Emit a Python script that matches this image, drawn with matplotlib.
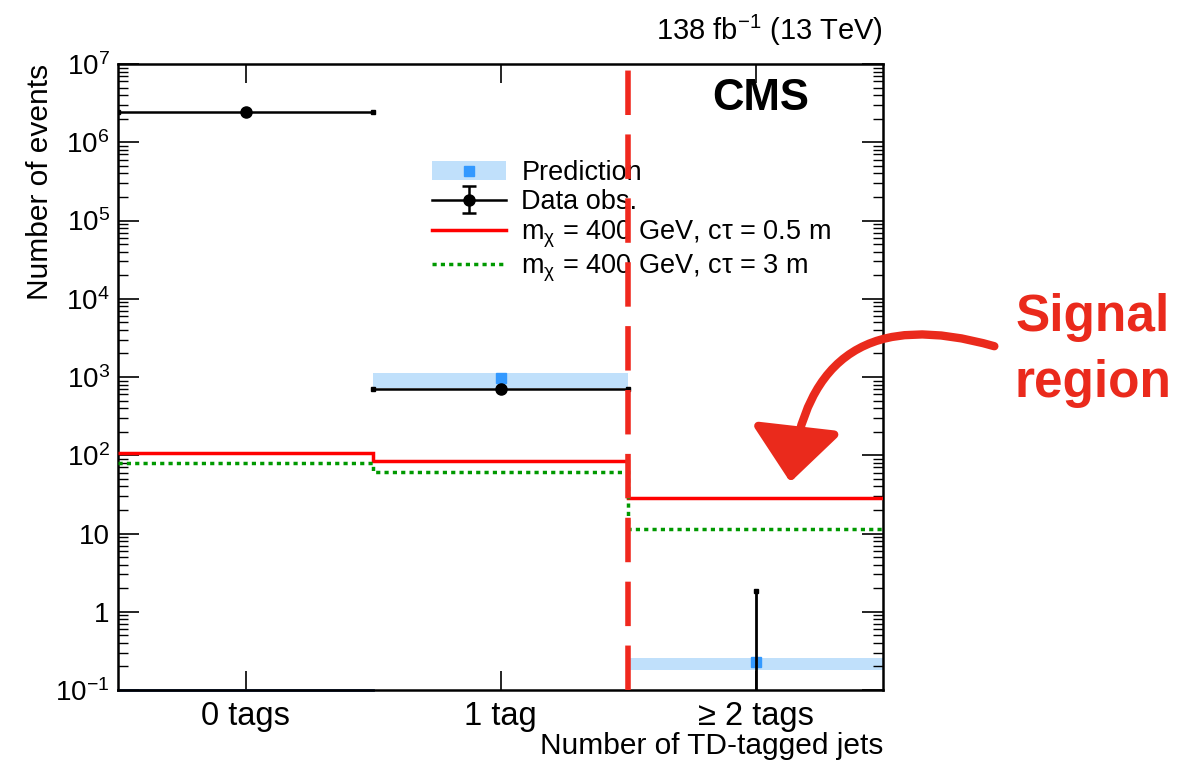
import numpy as np
import matplotlib
matplotlib.use("Agg")
import matplotlib.pyplot as plt
from matplotlib.patches import Patch, FancyArrowPatch
from matplotlib.lines import Line2D
from matplotlib.ticker import FixedLocator, FuncFormatter, LogLocator, NullFormatter

plt.rcParams['font.family'] = ['Liberation Sans', 'DejaVu Sans']
plt.rcParams['mathtext.fontset'] = 'custom'
plt.rcParams['mathtext.rm'] = 'Liberation Sans'
plt.rcParams['mathtext.it'] = 'Liberation Sans'
plt.rcParams['mathtext.bf'] = 'Liberation Sans:bold'

# ---- data ----
categories = ["0 tags", "1 tag", "\u2265 2 tags"]
bin_edges = [-0.5, 0.5, 1.5, 2.5]
data_obs = [2.44e6, 703, 0]
data_err_up = [1560, 26.5, 1.84]
pred_vals = [np.nan, 970, 0.228]
pred_lo = [np.nan, 720, 0.18]
pred_hi = [np.nan, 1120, 0.26]
sig_05m = [107, 84.5, 28.4]
sig_3m = [80, 61, 11.4]
ytick_vals = [1e-1, 1, 10, 1e2, 1e3, 1e4, 1e5, 1e6, 1e7]

fig = plt.figure(figsize=(11.9, 7.64), dpi=100)
ax = fig.add_axes([118/1190, 1-690/764, 765/1190, 626/764])
ax.set_yscale('log')
ax.set_xlim(bin_edges[0], bin_edges[-1])
ax.set_ylim(ytick_vals[0], ytick_vals[-1])

centers = np.arange(len(categories))

# prediction band + markers
for i in range(len(categories)):
    if np.isfinite(pred_vals[i]):
        ax.fill_between([bin_edges[i], bin_edges[i+1]], pred_lo[i], pred_hi[i],
                        color='#c0e0fb', lw=0, zorder=1)
        ax.plot(centers[i], pred_vals[i], 's', color='#3399ff', ms=7, zorder=3)
# 0-tag prediction (zero) line at axis floor
ax.plot([bin_edges[0], bin_edges[1]], [ytick_vals[0]]*2, color='#1f3a6e', lw=2, zorder=2, clip_on=False)

# signal histograms
ax.stairs(sig_05m, bin_edges, color='#ff0000', lw=2.5, baseline=None, zorder=4)
ax.stairs(sig_3m, bin_edges, color='#009900', lw=2.5, ls=(0, (1.2, 1.2)), baseline=None, zorder=4)

# data
for i in range(len(categories)):
    if data_obs[i] > 0:
        ax.errorbar([centers[i]], [data_obs[i]], xerr=0.5, yerr=[[0], [data_err_up[i]]],
                    fmt='o', color='black', ms=8, lw=1.8, capsize=0, zorder=5)
        ax.plot([bin_edges[i], bin_edges[i+1]], [data_obs[i]]*2, 's', color='black', ms=2.5, zorder=5)
    else:
        ax.plot([centers[i], centers[i]], [ytick_vals[0], data_err_up[i]], color='black', lw=2, zorder=5)
        ax.plot([centers[i]], [data_err_up[i]], 's', color='black', ms=3, zorder=5)

# legend handle for data
eb_leg = ax.errorbar([np.nan], [np.nan], yerr=[1.0], fmt='o', color='black', ms=8,
                     lw=1.8, capsize=5, capthick=1.8)
h_data = (Line2D([], [], color='black', lw=1.8), eb_leg)

# vertical dashed line
ax.axvline(1.5, color='#f0281e', lw=4, dashes=(8, 3.5), zorder=6)

# axes styling
ax.xaxis.set_major_locator(FixedLocator(centers))
ax.set_xticklabels(categories, fontsize=23.5)
def yfmt(v, p):
    e = int(round(np.log10(v)))
    if e == 1:
        return "10"
    if e == 0:
        return "1"
    return r"$10^{%d}$" % e
ax.yaxis.set_major_locator(FixedLocator(ytick_vals))
ax.yaxis.set_major_formatter(FuncFormatter(yfmt))
ax.yaxis.set_minor_locator(LogLocator(base=10, subs=np.arange(2, 10), numticks=20))
ax.yaxis.set_minor_formatter(NullFormatter())
ax.tick_params(axis='both', which='both', direction='in', top=True, right=True)
ax.tick_params(axis='x', which='major', length=14, width=1.2, pad=8)
ax.tick_params(axis='y', which='major', length=15, width=1.2, labelsize=20, pad=6)
ax.tick_params(axis='y', which='minor', length=7.5, width=1.0)
for s in ax.spines.values():
    s.set_linewidth(1.8)

ax.set_ylabel("Number of events", fontsize=21.5, loc='top', labelpad=1)
ax.set_xlabel("Number of TD-tagged jets", fontsize=21.5, loc='right', labelpad=0)

ax.text(1.0, 1.025, r"138 fb$^{-1}$ (13 TeV)", transform=ax.transAxes,
        ha='right', va='bottom', fontsize=21)
ax.text(0.84, 0.945, "CMS", transform=ax.transAxes, ha='center', va='center',
        fontsize=31.5, fontweight='bold')

# legend
h_pred = (Patch(facecolor='#c0e0fb', edgecolor='none'),
          Line2D([], [], marker='s', color='#3399ff', ls='none', ms=7))
h_sig1 = Line2D([], [], color='#ff0000', lw=2.5)
h_sig2 = Line2D([], [], color='#009900', lw=2.5, ls=(0, (1.2, 1.2)))
leg = ax.legend([h_pred, h_data, h_sig1, h_sig2],
                ["Prediction", "Data obs.", r"m$_{\chi}$ = 400 GeV, c$\tau$ = 0.5 m",
                 r"m$_{\chi}$ = 400 GeV, c$\tau$ = 3 m"],
                loc='upper left', bbox_to_anchor=((432-118)/765, (690-160)/626),
                frameon=False, fontsize=19.5, handlelength=2.75, handletextpad=0.55,
                labelspacing=0.12, borderaxespad=0, borderpad=0)

# annotation
fig.text(1093/1190, 1-318/764, "Signal", ha='center', va='center',
         fontsize=37, fontweight='bold', color='#ea2a1c')
fig.text(1093/1190, 1-383/764, "region", ha='center', va='center',
         fontsize=37, fontweight='bold', color='#ea2a1c')
arr = FancyArrowPatch((997/1190, 1-347/764), (790/1190, 1-485/764),
                      transform=fig.transFigure, connectionstyle="arc3,rad=0.6",
                      arrowstyle="-|>,head_length=1.5,head_width=1.25",
                      mutation_scale=22, color='#ea2a1c', lw=6)
fig.add_artist(arr)

fig.savefig("out.png", dpi=100)
